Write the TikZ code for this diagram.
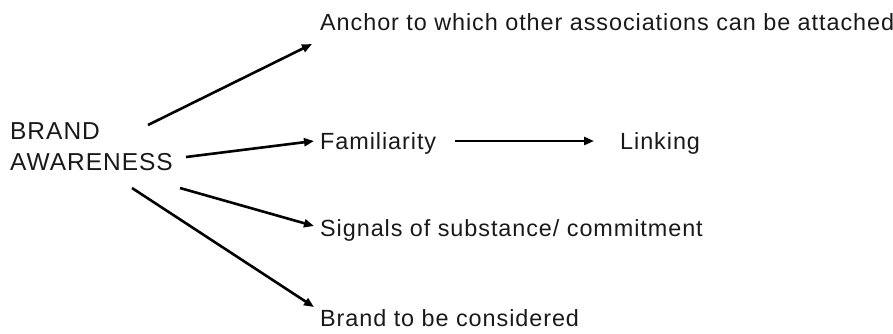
\documentclass[tikz,border=0pt]{standalone}
\usepackage{fontspec}
\setmainfont{Liberation Sans}[LetterSpace=4]
\usetikzlibrary{arrows.meta}
\begin{document}
\begin{tikzpicture}[x=1pt,y=-1pt,
  lbl/.style={inner sep=3pt, anchor=west, font=\fontsize{23.4}{31}\selectfont, text=black!90},
  arr/.style={line width=2.6pt, -{Triangle[length=10pt,width=8pt]}}]
\useasboundingbox (0,0) rectangle (893,333);
\node[lbl, align=left, font=\fontsize{24.5}{31}\selectfont] (ba) at (7,147) {BRAND\\AWARENESS};
\node[lbl] (anc) at (317,22) {Anchor to which other associations can be attached};
\node[lbl] (fam) at (317,143) {Familiarity};
\node[lbl] (link) at (617,143) {Linking};
\node[lbl] (sig) at (317,230) {Signals of substance/ commitment};
\node[lbl] (btc) at (317,318) {Brand to be considered};
\coordinate (s1) at (148,125);
\coordinate (s2) at (186,157);
\coordinate (s3) at (180,188);
\coordinate (s4) at (132,188);
\coordinate (t1) at (312,44);
\coordinate (t2) at (314,141);
\coordinate (t3) at (314,226);
\coordinate (t4) at (314,307);
\coordinate (f1) at (455,141);
\coordinate (f2) at (594,141);
\draw[arr] (s1) -- (t1);
\draw[arr] (s2) -- (t2);
\draw[arr] (s3) -- (t3);
\draw[arr] (s4) -- (t4);
\draw[arr] (f1) -- (f2);
\end{tikzpicture}
\end{document}
